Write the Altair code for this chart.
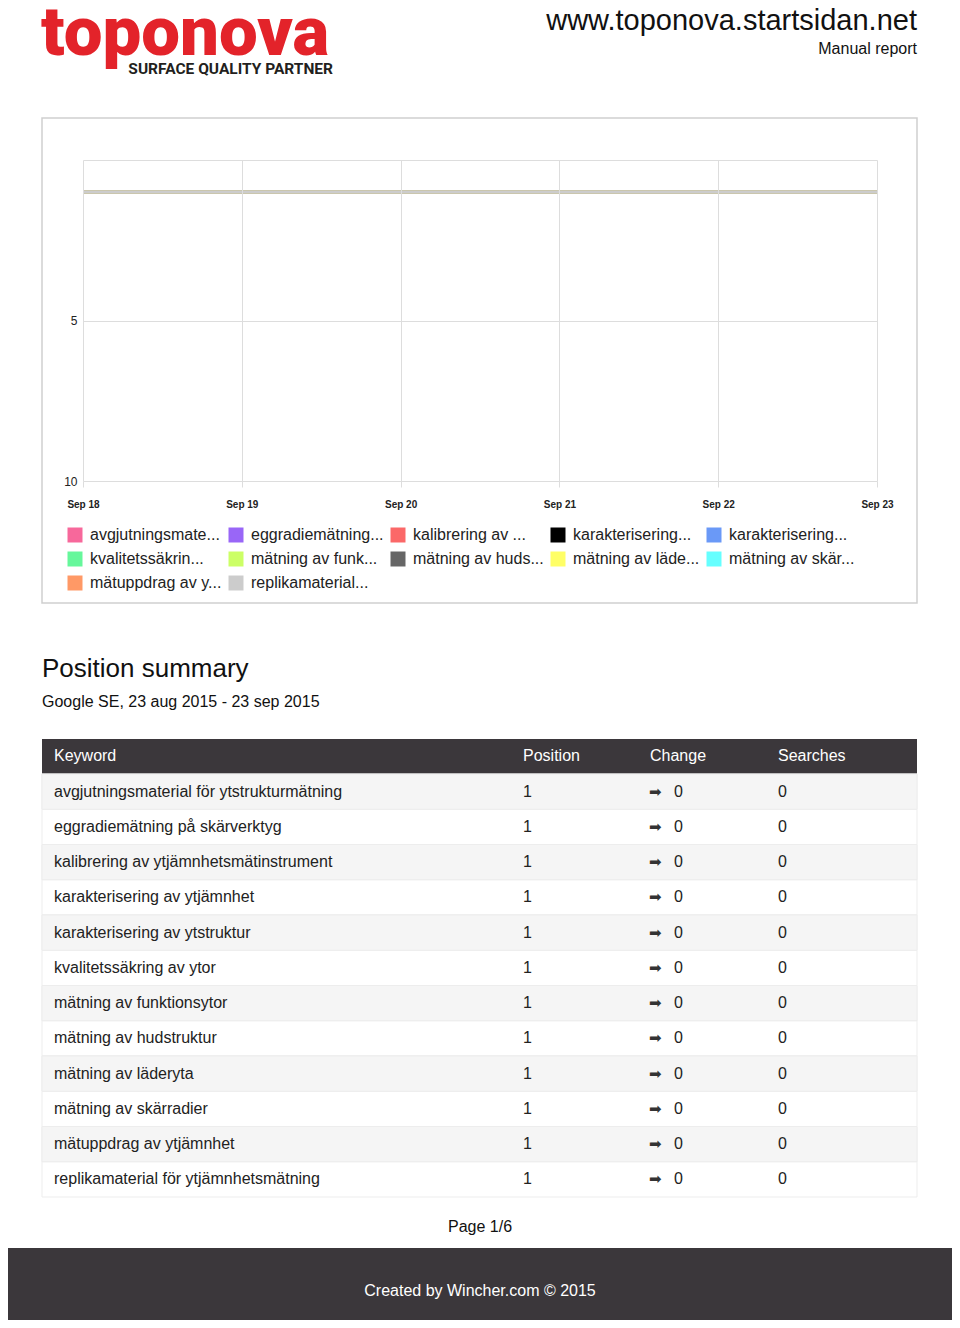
import altair as alt
import pandas as pd

# ---------------- data ----------------
site_name = "www.toponova.startsidan.net"
report_kind = "Manual report"
brand_name = "toponova"
brand_tagline = "SURFACE QUALITY PARTNER"
summary_title = "Position summary"
summary_subtitle = "Google SE, 23 aug 2015 - 23 sep 2015"
table_columns = ["Keyword", "Position", "Change", "Searches"]
page_label = "Page 1/6"
footer_label = "Created by Wincher.com © 2015"

keywords = [
    "avgjutningsmaterial för ytstrukturmätning",
    "eggradiemätning på skärverktyg",
    "kalibrering av ytjämnhetsmätinstrument",
    "karakterisering av ytjämnhet",
    "karakterisering av ytstruktur",
    "kvalitetssäkring av ytor",
    "mätning av funktionsytor",
    "mätning av hudstruktur",
    "mätning av läderyta",
    "mätning av skärradier",
    "mätuppdrag av ytjämnhet",
    "replikamaterial för ytjämnhetsmätning",
]
dates = ["2015-09-18", "2015-09-19", "2015-09-20", "2015-09-21", "2015-09-22", "2015-09-23"]
daily_positions = [
    [1, 1, 1, 1, 1, 1],
    [1, 1, 1, 1, 1, 1],
    [1, 1, 1, 1, 1, 1],
    [1, 1, 1, 1, 1, 1],
    [1, 1, 1, 1, 1, 1],
    [1, 1, 1, 1, 1, 1],
    [1, 1, 1, 1, 1, 1],
    [1, 1, 1, 1, 1, 1],
    [1, 1, 1, 1, 1, 1],
    [1, 1, 1, 1, 1, 1],
    [1, 1, 1, 1, 1, 1],
    [1, 1, 1, 1, 1, 1],
]
series_colors = ["#f7689b", "#9966f7", "#fb6868", "#000000", "#6a99f7", "#66f79b",
                 "#ccff66", "#666666", "#ffff66", "#66ffff", "#ff9966", "#cccccc"]
summary_position = [1, 1, 1, 1, 1, 1, 1, 1, 1, 1, 1, 1]
summary_change = [0, 0, 0, 0, 0, 0, 0, 0, 0, 0, 0, 0]
summary_searches = [0, 0, 0, 0, 0, 0, 0, 0, 0, 0, 0, 0]

# ---------------- layout helpers ----------------
FONT = "Liberation Sans, Arial, Helvetica, sans-serif"
LOGO_FONT = "Roboto, Liberation Sans, sans-serif"
DARK = "#3b373b"
PLOT_X0, PLOT_Y0 = 83, 160
PLOT_W, PLOT_H = 794, 321
PAGE_W, PAGE_H = 944, 1312


def px(x):
    return x - PLOT_X0


def py(y):
    return y - PLOT_Y0


def text_at(txt, x, y, size, color="#111111", align="left", weight="normal",
            font=FONT, baseline="alphabetic"):
    return alt.Chart(pd.DataFrame({"t": [txt]})).mark_text(
        align=align, baseline=baseline, fontSize=size, color=color,
        fontWeight=weight, font=font
    ).encode(text="t:N", x=alt.value(px(x)), y=alt.value(py(y)))


def box(x1, y1, x2, y2, fill=None, stroke=None, sw=1):
    kw = {}
    if fill is None:
        kw["filled"] = False
    else:
        kw["fill"] = fill
    if stroke is not None:
        kw["stroke"] = stroke
        kw["strokeWidth"] = sw
    return alt.Chart(pd.DataFrame({"a": [0]})).mark_rect(**kw).encode(
        x=alt.value(px(x1)), x2=alt.value(px(x2)),
        y=alt.value(py(y1)), y2=alt.value(py(y2)))


# ---------------- line chart ----------------
rows = []
for kw, vals in zip(keywords, daily_positions):
    for d, v in zip(dates, vals):
        rows.append({"keyword": kw, "date": d, "position": v})
line_df = pd.DataFrame(rows)

grid_c = "#dddddd"
x_enc = alt.X(
    "date:T",
    scale=alt.Scale(type="utc", nice=False),
    axis=alt.Axis(title=None, format="%b %d", tickCount={"interval": "day", "step": 1},
                  grid=True, gridColor=grid_c, domain=False, ticks=True, tickSize=6,
                  tickColor=grid_c, labelFontSize=10, labelFontWeight="bold",
                  labelColor="#222222", labelPadding=12, labelBaseline="top",
                  labelFlush=False, labelOverlap=False, labelAngle=0, zindex=1,
                  labelFont=FONT),
)
y_scale = alt.Scale(domain=[0, 10], reverse=True, nice=False, zero=False)
y_enc = alt.Y(
    "position:Q", scale=y_scale,
    axis=alt.Axis(title=None, values=[0, 5, 10],
                  labelExpr="datum.value == 0 ? '' : datum.label",
                  grid=True, gridColor=grid_c, domain=False, ticks=False,
                  labelFontSize=12, labelColor="#222222", labelPadding=6, zindex=1,
                  labelFont=FONT),
)
color_scale = alt.Scale(domain=keywords, range=series_colors)

legend_squares = alt.Chart(line_df).mark_square(size=100, filled=True).encode(
    x=x_enc,
    y=alt.Y("position:Q", scale=y_scale, axis=None),
    fill=alt.Fill("keyword:N", scale=color_scale, legend=alt.Legend(
        title=None, orient="none", legendX=px(67), legendY=py(527), columns=5,
        direction="horizontal",
        gridAlign="none", symbolType="square", symbolSize=225, symbolStrokeWidth=0,
        symbolOpacity=1, labelFontSize=16, labelFont=FONT, labelColor="#222222",
        labelOffset=7, columnPadding=6, rowPadding=8, labelLimit=400, padding=0,
        labelExpr="substring(datum.label, 0, 15) + '...'", zindex=1)),
)

lines = alt.Chart(line_df).mark_line(strokeWidth=3).encode(
    x=x_enc, y=y_enc,
    stroke=alt.Stroke("keyword:N", scale=color_scale, legend=None),
)

# ---------------- table ----------------
table_df = pd.DataFrame({"keyword": keywords, "position": summary_position,
                         "change": summary_change, "searches": summary_searches})
row_scale = alt.Scale(type="band", domain=keywords, range=[py(774), py(1197)],
                      paddingInner=0, paddingOuter=0)


def row_y():
    return alt.Y("keyword:N", scale=row_scale, axis=None, sort=None)


rows_white = alt.Chart(table_df).mark_rect(fill="#ffffff", stroke="#ededed", strokeWidth=1).encode(
    y=row_y(), x=alt.value(px(42)), x2=alt.value(px(917)))
rows_grey = alt.Chart(table_df).transform_window(idx="row_number()").transform_filter(
    "datum.idx % 2 == 1").mark_rect(fill="#f5f5f5", stroke="#ededed", strokeWidth=1).encode(
    y=row_y(), x=alt.value(px(42)), x2=alt.value(px(917)))


def col_text(field, x, size=16, font=FONT, color="#222222"):
    return alt.Chart(table_df).mark_text(
        align="left", baseline="middle", fontSize=size, font=font, color=color
    ).encode(y=row_y(), x=alt.value(px(x)), text=field)


col_kw = col_text("keyword:N", 54)
col_pos = col_text("position:Q", 523)
col_arrow = alt.Chart(table_df).transform_calculate(
    arrow="datum.change > 0 ? '▲' : (datum.change < 0 ? '▼' : '➡')"
).mark_text(align="left", baseline="middle", fontSize=15, font="DejaVu Sans",
            color="#333333").encode(y=row_y(), x=alt.value(px(649)), text="arrow:N")
col_change = col_text("change:Q", 674)
col_search = col_text("searches:Q", 778)

header_x = [54, 523, 650, 778]
header_texts = [text_at(c, hx, 756, 16, color="#ffffff", baseline="middle")
                for c, hx in zip(table_columns, header_x)]

# ---------------- page assembly ----------------
layers = [
    legend_squares,
    box(8, 8, 952, 1320, fill="#ffffff"),
    text_at(brand_name, 41, 55, 69, color="#e3232a", weight=900, font=LOGO_FONT),
    text_at(brand_tagline, 333, 74, 15.5, color="#231f20", align="right", weight="bold",
            font=LOGO_FONT),
    text_at(site_name, 917, 30, 29, color="#111111", align="right"),
    text_at(report_kind, 917, 54, 16, color="#111111", align="right"),
    box(42, 118, 917, 603, stroke="#cfcfcf", sw=1.5),
    lines,
    text_at(summary_title, 42, 677, 26, color="#111111"),
    text_at(summary_subtitle, 42, 707, 16, color="#111111"),
    box(42, 739, 917, 774, fill=DARK),
    *header_texts,
    rows_white,
    rows_grey,
    col_kw, col_pos, col_arrow, col_change, col_search,
    text_at(page_label, 480, 1232, 16, color="#111111", align="center"),
    box(8, 1248, 952, 1320, fill=DARK),
    text_at(footer_label, 480, 1296, 16, color="#ffffff", align="center"),
]

chart = alt.layer(*layers).resolve_scale(y="independent").properties(
    width=PLOT_W, height=PLOT_H,
    autosize=alt.AutoSizeParams(type="none"),
    padding={"left": PLOT_X0 - 8, "top": PLOT_Y0 - 8,
             "right": PAGE_W - (PLOT_X0 - 8) - PLOT_W,
             "bottom": PAGE_H - (PLOT_Y0 - 8) - PLOT_H},
    background="#ffffff",
).configure_view(strokeWidth=0).configure(font=FONT)

chart.save("out.html", embed_options={"renderer": "svg", "actions": False})
